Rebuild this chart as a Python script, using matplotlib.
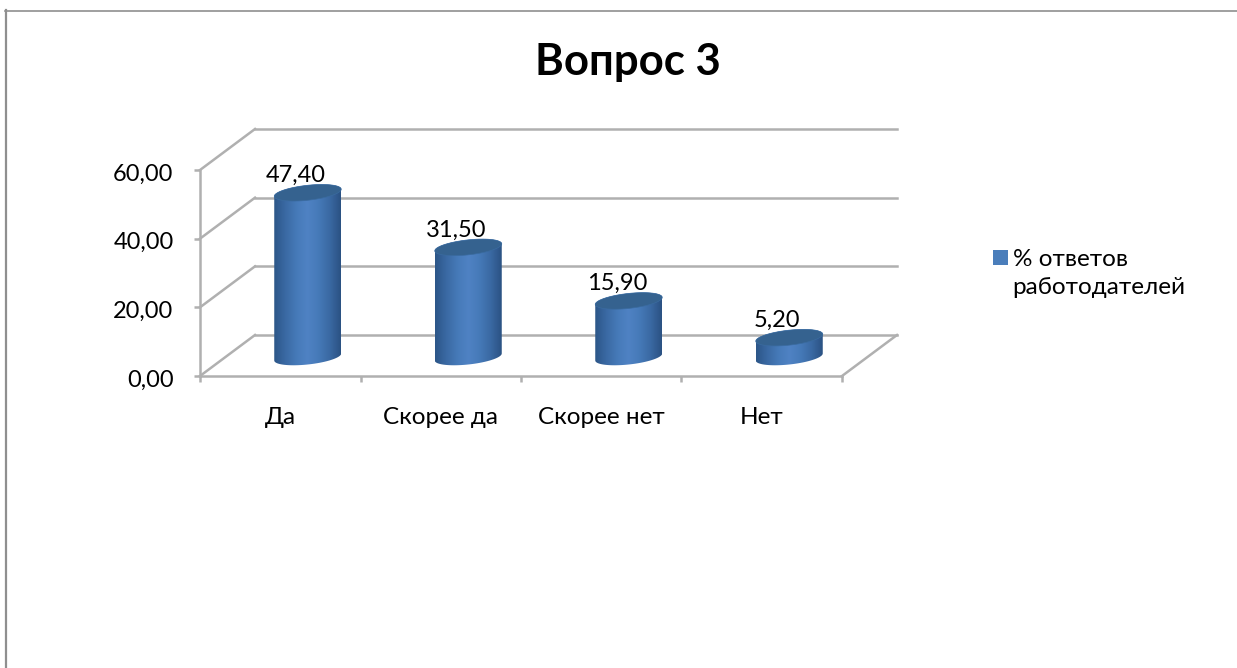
import numpy as np
import matplotlib.pyplot as plt
from matplotlib.colors import LinearSegmentedColormap
from matplotlib.lines import Line2D
from matplotlib.patches import Patch, PathPatch
from matplotlib.path import Path
from matplotlib.transforms import ScaledTranslation

categories = ["Да", "Скорее да", "Скорее нет", "Нет"]
values = [47.40, 31.50, 15.90, 5.20]
value_labels = ["47,40", "31,50", "15,90", "5,20"]
y_ticks = [0, 20, 40, 60]
y_tick_labels = ["0,00", "20,00", "40,00", "60,00"]
series_name = "% ответов\nработодателей"
title = "Вопрос 3"

plt.rcParams['font.family'] = ['Lato', 'Open Sans', 'DejaVu Sans']

W, H = 1237, 668
GRID = '#b0b0b0'

fig = plt.figure(figsize=(W / 100, H / 100), dpi=100)
ax = fig.add_axes([200 / W, (H - 376) / H, 642 / W, 206 / H])
ax.set_xlim(0, 4)
ax.set_ylim(0, 60)

# one data unit in pixels, everything 3d-looking is an oblique offset
px_x = 4 / 642
px_y = 60 / 206
depth_x = 55 * px_x
depth_y = 41 * px_y

# back wall, left wall and floor
for t in y_ticks:
    ax.plot([depth_x, 4 + depth_x], [t + depth_y, t + depth_y], c=GRID, lw=1.8, clip_on=False, zorder=1)
    ax.plot([0, depth_x], [t, t + depth_y], c=GRID, lw=1.8, clip_on=False, zorder=1)
ax.plot([4, 4 + depth_x], [0, depth_y], c=GRID, lw=1.8, clip_on=False, zorder=1)

ax.spines['top'].set_visible(False)
ax.spines['right'].set_visible(False)
ax.spines['left'].set_color(GRID)
ax.spines['bottom'].set_color(GRID)
ax.spines['left'].set_linewidth(1.8)
ax.spines['bottom'].set_linewidth(1.8)
ax.patch.set_alpha(0)

ax.set_yticks(y_ticks)
ax.set_yticklabels(y_tick_labels, fontsize=17)
ax.tick_params(axis='y', length=4, width=1.8, color=GRID, pad=15)
ax.set_xticks(range(5))
ax.set_xticklabels([])
ax.tick_params(axis='x', which='major', length=4, width=1.8, color=GRID)
ax.set_xticks(np.arange(4) + 0.5, minor=True)
ax.set_xticklabels(categories, minor=True, fontsize=17.5)
ax.tick_params(axis='x', which='minor', length=0, pad=22.5)

# tick labels sit a bit lower than matplotlib centres them
shift = ScaledTranslation(0, -2 / 100, fig.dpi_scale_trans)
for lab in ax.get_yticklabels():
    lab.set_transform(lab.get_transform() + shift)

cmap = LinearSegmentedColormap.from_list('cyl', ['#2c5688', '#3a69a3', '#467ab8', '#4f82c4', '#467ab8',
                                                  '#3a69a3', '#2b5283'])

half_w = 33.5 * px_x
semi_b = 7.5 * px_y
shear = 3.5 * px_y


def ellipse_xy(cx, cy, t):
    return cx + half_w * np.cos(t), cy + shear * np.cos(t) + semi_b * np.sin(t)


for i, v in enumerate(values):
    cx = i + 0.5 + depth_x / 2
    y0 = depth_y / 2
    y1 = y0 + v

    # body: bottom half of the base ellipse, then top ellipse
    t_low = np.linspace(np.pi, 2 * np.pi, 40)
    t_top = np.linspace(0, np.pi, 40)
    xb, yb = ellipse_xy(cx, y0 - 1.5 * px_y, t_low)
    xt, yt = ellipse_xy(cx, y1, t_top)
    xs = np.r_[xb, xt]
    ys = np.r_[yb, yt]
    outline = Path(np.c_[xs, ys])
    body = PathPatch(outline, fc='none', ec='none', transform=ax.transData)
    ax.add_patch(body)
    im = ax.imshow(np.linspace(0, 1, 128)[None, :], cmap=cmap, aspect='auto', zorder=2,
                   extent=[cx - half_w, cx + half_w, y0 - 10, y1 + 10])
    im.set_clip_path(body)
    im.set_clip_on(True)

    t = np.linspace(0, 2 * np.pi, 80)
    xc, yc = ellipse_xy(cx, y1, t)
    ax.fill(xc, yc, fc='#35628f', ec='#3a6ba0', lw=0.5, zorder=3, clip_on=False)

    ax.annotate(value_labels[i], (cx, y1), xytext=(-12, 17.5), textcoords='offset pixels',
                ha='center', va='center', fontsize=17, color='black', zorder=4, annotation_clip=False)

ax.set_xlim(0, 4)
ax.set_ylim(0, 60)

fig.text(628 / W, 1 - 62.5 / H, title, ha='center', va='center', fontsize=31.5, fontweight='bold')

leg = fig.legend(handles=[Patch(fc='#4a7ebb', ec='none')], labels=[series_name], loc='upper left',
                 bbox_to_anchor=(989 / W, 1 - 245 / H), frameon=False, fontsize=17.5, handlelength=0.62,
                 handleheight=0.62, handletextpad=0.2, labelspacing=0, borderpad=0.15, borderaxespad=0)
# square sits next to the first line of the label
leg.get_texts()[0].set_linespacing(1.45)
leg.legend_handles[0].set_y(12)

# outer frame of the chart, only top and left are in the picture
fig.add_artist(Line2D([5.5 / W, 5.5 / W], [0, 1 - 10 / H], color='#8f8f8f', lw=1.6))
fig.add_artist(Line2D([5 / W, 1], [1 - 10.5 / H, 1 - 10.5 / H], color='#8f8f8f', lw=1.2))

fig.savefig("out.png", dpi=100)
